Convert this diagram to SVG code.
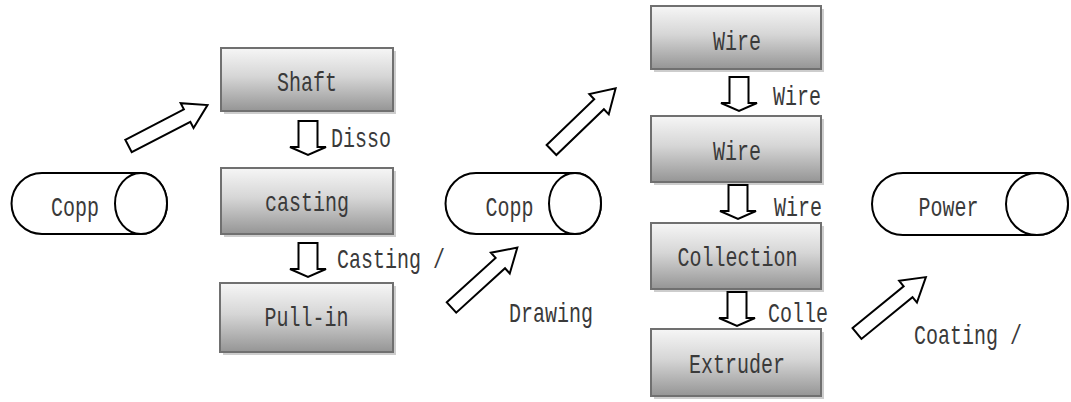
<svg xmlns="http://www.w3.org/2000/svg" width="1071" height="402" viewBox="0 0 1071 402">
  <defs>
    <linearGradient id="boxFill" x1="0" y1="0" x2="0" y2="1">
      <stop offset="0" stop-color="#f6f6f6"/>
      <stop offset="0.45" stop-color="#d6d6d6"/>
      <stop offset="1" stop-color="#959595"/>
    </linearGradient>
    <!-- hollow block arrow pointing along +x, tail at origin -->
    <path id="blockArrow" d="M0,-7 H66 V-14 L89,0 L66,14 V7 H0 Z"/>
    <!-- hollow downward step arrow, top of stem at origin -->
    <path id="downArrow" d="M-9.5,0 H9.5 V26 H18 L0,34 L-18,26 H-9.5 Z"/>
  </defs>
  <style>
    .box { fill: url(#boxFill); stroke: #707070; stroke-width: 2; }
    .shadow { fill: #cdcdcd; }
    .cyl { fill: #ffffff; stroke: #000000; stroke-width: 2; }
    .arrow { fill: #ffffff; stroke: #000000; stroke-width: 2; stroke-linejoin: miter; }
    text { font-family: "Liberation Mono", "DejaVu Sans Mono", monospace; font-size: 20px; fill: #3a3a3a; }
    .mid { text-anchor: middle; }
  </style>

  <rect width="1071" height="402" fill="#ffffff"/>

  <!-- storage drums -->
  <g id="drum-copp-1">
    <path class="cyl" d="M42,173 H141 A26,30.5 0 0 1 141,234 H42 A30.5,30.5 0 0 1 42,173 Z"/>
    <ellipse class="cyl" cx="141" cy="203.5" rx="26" ry="30.5"/>
    <text class="mid" transform="translate(75 216) scale(1 1.35)">Copp</text>
  </g>
  <g id="drum-copp-2">
    <path class="cyl" d="M476,173 H575 A26,30.5 0 0 1 575,234 H476 A30.5,30.5 0 0 1 476,173 Z"/>
    <ellipse class="cyl" cx="575" cy="203.5" rx="26" ry="30.5"/>
    <text class="mid" transform="translate(509.5 216) scale(1 1.35)">Copp</text>
  </g>
  <g id="drum-power">
    <path class="cyl" d="M903,173 H1037 A31,31 0 0 1 1037,235 H903 A31,31 0 0 1 903,173 Z"/>
    <ellipse class="cyl" cx="1037" cy="204" rx="31" ry="31"/>
    <text class="mid" transform="translate(948.5 216) scale(1 1.35)">Power</text>
  </g>

  <!-- process steps, left column -->
  <g id="step-shaft">
    <rect class="shadow" x="224" y="51" width="172" height="63"/>
    <rect class="box" x="221" y="48" width="172" height="63"/>
    <text class="mid" transform="translate(307 91) scale(1 1.35)">Shaft</text>
  </g>
  <g id="step-casting">
    <rect class="shadow" x="224" y="171" width="172" height="66"/>
    <rect class="box" x="221" y="168" width="172" height="66"/>
    <text class="mid" transform="translate(307 211) scale(1 1.35)">casting</text>
  </g>
  <g id="step-pullin">
    <rect class="shadow" x="223" y="286" width="173" height="69"/>
    <rect class="box" x="220" y="283" width="173" height="69"/>
    <text class="mid" transform="translate(306.5 326) scale(1 1.35)">Pull-in</text>
  </g>

  <!-- process steps, right column -->
  <g id="step-wire-1">
    <rect class="shadow" x="654" y="9" width="170" height="63"/>
    <rect class="box" x="651" y="6" width="170" height="63"/>
    <text class="mid" transform="translate(737 50) scale(1 1.35)">Wire</text>
  </g>
  <g id="step-wire-2">
    <rect class="shadow" x="654" y="119" width="170" height="66"/>
    <rect class="box" x="651" y="116" width="170" height="66"/>
    <text class="mid" transform="translate(737 160) scale(1 1.35)">Wire</text>
  </g>
  <g id="step-collection">
    <rect class="shadow" x="654" y="226" width="170" height="66"/>
    <rect class="box" x="651" y="223" width="170" height="66"/>
    <text class="mid" transform="translate(737.5 266) scale(1 1.35)">Collection</text>
  </g>
  <g id="step-extruder">
    <rect class="shadow" x="654" y="332" width="170" height="67"/>
    <rect class="box" x="651" y="329" width="170" height="67"/>
    <text class="mid" transform="translate(737 373) scale(1 1.35)">Extruder</text>
  </g>

  <!-- connectors -->
  <g id="connectors">
    <use href="#blockArrow" class="arrow" transform="translate(128.5 146) rotate(-27.4)"/>
    <use href="#blockArrow" class="arrow" transform="translate(551.5 150) rotate(-43.9)"/>
    <use href="#blockArrow" class="arrow" transform="translate(451.5 307.5) rotate(-42.3)"/>
    <use href="#blockArrow" class="arrow" transform="translate(857 333.5) rotate(-39.3)"/>

    <use href="#downArrow" class="arrow" transform="translate(308 121)"/>
    <use href="#downArrow" class="arrow" transform="translate(308 243)"/>
    <use href="#downArrow" class="arrow" transform="translate(739 77)"/>
    <use href="#downArrow" class="arrow" transform="translate(738 185)"/>
    <use href="#downArrow" class="arrow" transform="translate(737 292)"/>
  </g>

  <!-- connector labels -->
  <g id="labels">
    <text transform="translate(331 147) scale(1 1.35)">Disso</text>
    <text transform="translate(337 268) scale(1 1.35)">Casting /</text>
    <text transform="translate(509 322) scale(1 1.35)">Drawing</text>
    <text transform="translate(773 105) scale(1 1.35)">Wire</text>
    <text transform="translate(774 216) scale(1 1.35)">Wire</text>
    <text transform="translate(768 322) scale(1 1.35)">Colle</text>
    <text transform="translate(914 344) scale(1 1.35)">Coating /</text>
  </g>
</svg>
